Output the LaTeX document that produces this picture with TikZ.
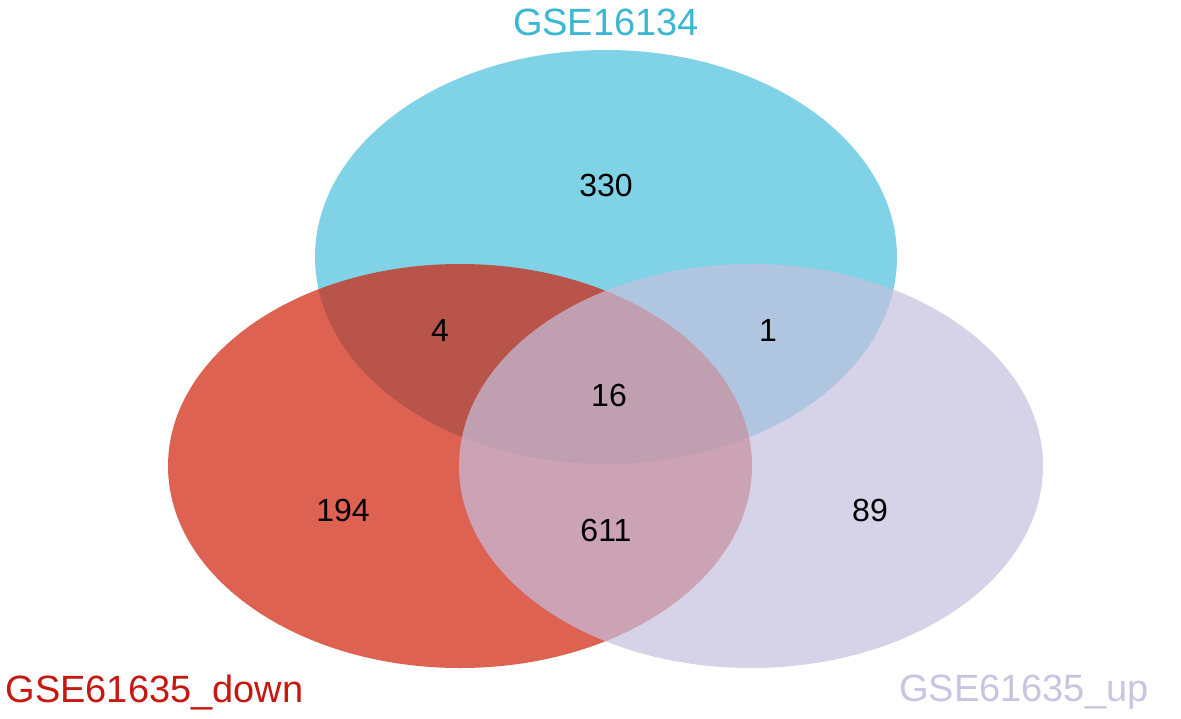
\documentclass[tikz,border=0pt]{standalone}
\usepackage{fontspec}
\setmainfont{Liberation Sans}
\definecolor{cA}{RGB}{74,191,219}
\definecolor{cB}{RGB}{208,31,8}
\definecolor{cC}{RGB}{196,191,222}
\definecolor{tA}{RGB}{60,182,212}
\definecolor{tB}{RGB}{196,24,16}
\definecolor{tC}{RGB}{200,196,226}
\begin{document}
\begin{tikzpicture}[x=1pt,y=-1pt,
  set/.style={fill opacity=0.7,draw=none},
  num/.style={font=\fontsize{32}{36}\selectfont,text=black},
  lab/.style={font=\fontsize{38}{42}\selectfont}]
\useasboundingbox (0,0) rectangle (1181,718);
\fill[set,cA] (606,257) ellipse [x radius=291, y radius=207];
\fill[set,cB] (460,466) ellipse [x radius=292, y radius=202];
\fill[set,cC] (751,466) ellipse [x radius=292, y radius=202];
\node[num] (n330) at (606,185) {330};
\node[num] (n4) at (440,330) {4};
\node[num] (n1) at (768,330) {1};
\node[num] (n16) at (609,395) {16};
\node[num] (n194) at (343,510) {194};
\node[num] (n611) at (606,530) {611};
\node[num] (n89) at (870,510) {89};
\node[lab,text=tA] (lA) at (606,22) {GSE16134};
\node[lab,text=tB,anchor=west] (lB) at (2,692) {GSE61635\_down};
\node[lab,text=tC,anchor=east] (lC) at (1152,692) {GSE61635\_up};
\end{tikzpicture}
\end{document}
